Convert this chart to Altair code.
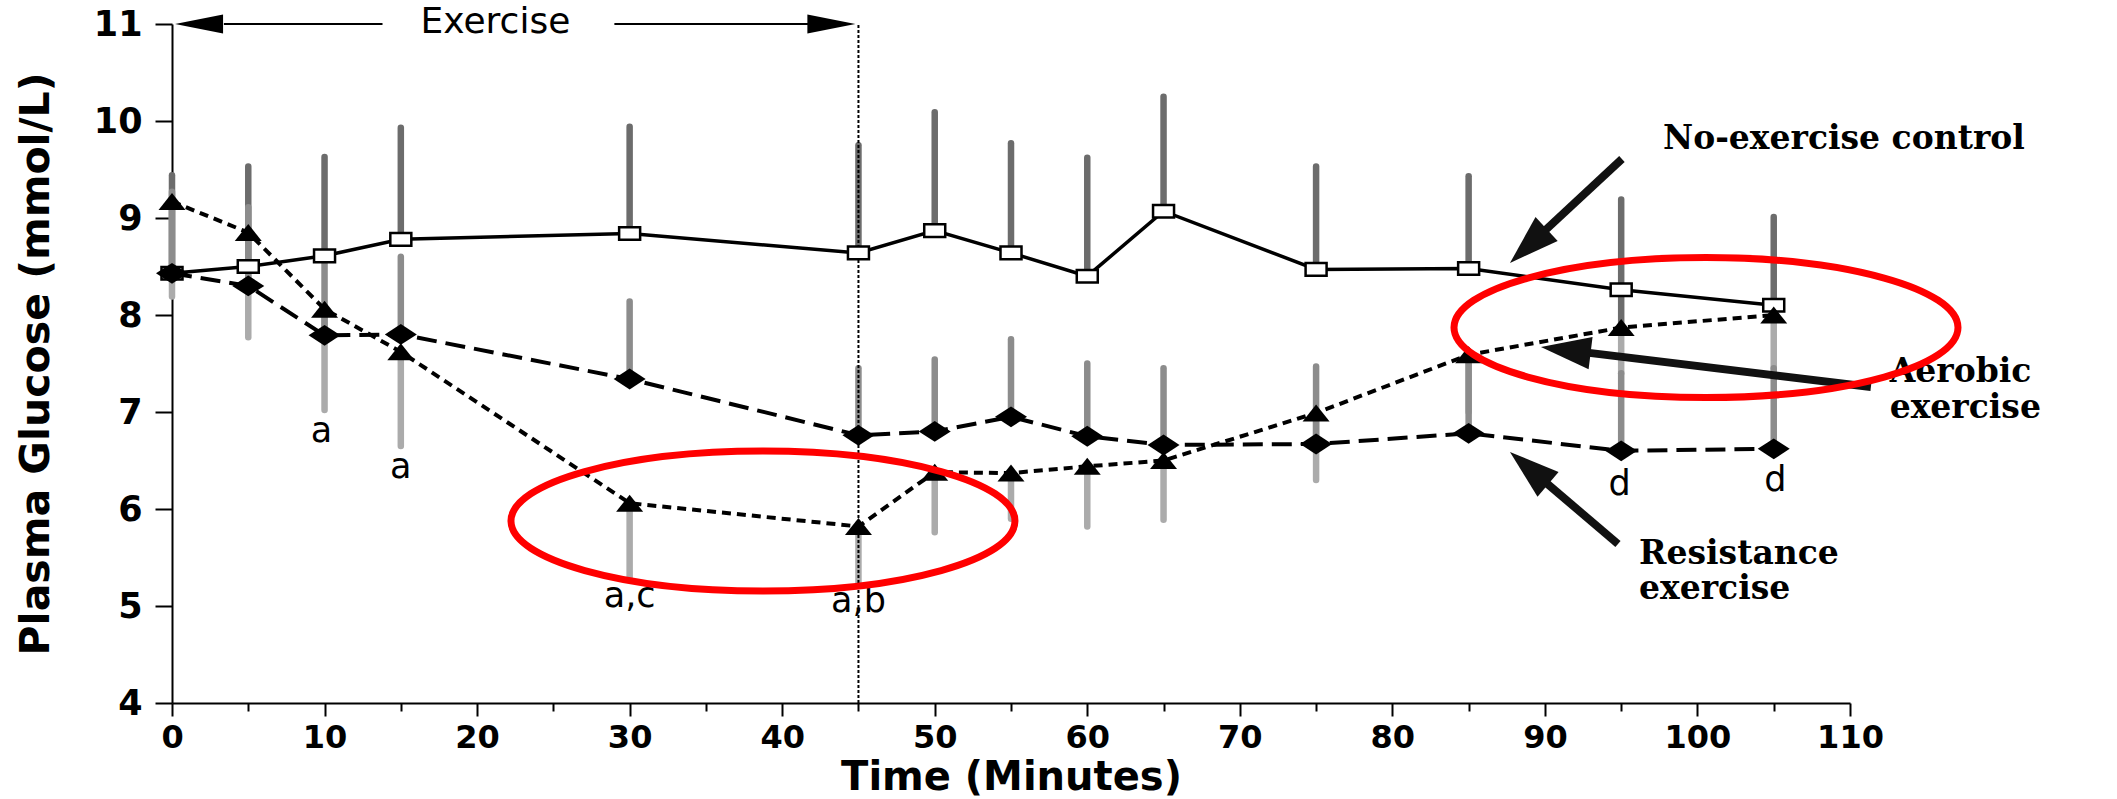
import altair as alt
import pandas as pd

# ---------------- data ----------------
times = [0, 5, 10, 15, 30, 45, 50, 55, 60, 65, 75, 85, 95, 105]

control = [8.43, 8.50, 8.61, 8.78, 8.84, 8.64, 8.87, 8.64, 8.40, 9.07, 8.47, 8.48, 8.26, 8.10]
control_bar_lo = [8.43, 8.50, 8.61, 8.78, 8.84, 8.64, 8.87, 8.64, 8.40, 9.07, 8.47, 8.48, 7.87, 8.10]
control_bar_hi = [9.44, 9.53, 9.63, 9.93, 9.94, 9.75, 10.09, 9.77, 9.62, 10.25, 9.53, 9.43, 9.19, 9.01]

aerobic = [9.17, 8.85, 8.06, 7.62, 6.06, 5.82, 6.38, 6.37, 6.44, 6.50, 6.99, 7.59, 7.87, 8.00]
aerobic_bar_lo = [8.19, 7.77, 7.02, 6.65, 5.29, 5.24, 5.76, 5.90, 5.82, 5.89, 6.30, 7.00, 7.40, 7.45]

resistance = [8.43, 8.30, 7.79, 7.80, 7.34, 6.76, 6.80, 6.95, 6.75, 6.66, 6.67, 6.78, 6.60, 6.62]
resistance_bar_hi = [9.27, 9.11, 8.60, 8.60, 8.14, 7.45, 7.54, 7.75, 7.50, 7.45, 7.47, 7.59, 7.40, 7.45]

sig_labels = ["a", "a", "a,c", "a,b", "d", "d"]
sig_t = [9.8, 15.0, 30.0, 45.0, 94.9, 105.1]
sig_v = [6.69, 6.32, 4.99, 4.94, 6.14, 6.19]

exercise_end = 45
ex_line_from = [3.4, 29.0]
ex_line_to = [13.8, 41.8]
ex_level = [11.0, 11.0]
ex_tip_t = [0.2, 44.8]
ex_tip_angle = [180, 0]
ex_label_t = [21.2]
ex_label_v = [11.02]

note_text = ["No-exercise control", "Aerobic", "exercise", "Resistance", "exercise"]
note_t = [97.74, 112.6, 112.6, 96.17, 96.17]
note_v = [9.711, 7.309, 6.935, 5.433, 5.072]

arrow_tail_t = [95.05, 111.37, 94.79]
arrow_tail_v = [9.608, 7.258, 5.639]
arrow_neck_t = [89.15, 91.69, 89.20]
arrow_neck_v = [8.746, 7.633, 6.388]
arrow_tip_t = [87.71, 89.74, 87.71]
arrow_tip_v = [8.536, 7.670, 6.588]
arrow_angle = [137.1, 186.9, 220.4]

ellipse_t = [38.74, 100.56]
ellipse_v = [5.876, 7.871]

# ---------------- shapes ----------------
SQUARE = "M -1 -0.6 L 1 -0.6 L 1 0.6 L -1 0.6 Z"
TRIANGLE = "M 0 -0.63 L 1 0.63 L -1 0.63 Z"
DIAMOND = "M 0 -0.65 L 1 0 L 0 0.65 L -1 0 Z"
THIN_HEAD = "M 0 0 L -2 -0.4 L -2 0.4 Z"
THICK_HEAD = "M 0 0 L -2 -0.65 L -2 0.65 Z"
e = 0.2778
ke = round(0.5523 * e, 4)
ELLIPSE = (f"M 1 0 C 1 {ke} 0.5523 {e} 0 {e} "
           f"C -0.5523 {e} -1 {ke} -1 0 "
           f"C -1 -{ke} -0.5523 -{e} 0 -{e} "
           f"C 0.5523 -{e} 1 -{ke} 1 0 Z")

# ---------------- scales / axes ----------------
xs = alt.Scale(domain=[0, 110], nice=False, zero=False)
ys = alt.Scale(domain=[4, 11], nice=False, zero=False)

x_axis = alt.Axis(
    title="Time (Minutes)",
    values=list(range(0, 111, 5)),
    labelExpr="datum.value % 10 === 0 ? datum.label : ''",
    tickSize={"condition": {"test": "datum.value % 10 === 0", "value": 13}, "value": 8},
    tickWidth=2, tickColor="black", domainColor="black", domainWidth=2,
    labelFont="DejaVu Sans", labelFontWeight="bold", labelFontSize=32, labelColor="black",
    labelPadding=6, labelFlush=False, labelOverlap=False, grid=False,
    titleFont="DejaVu Sans", titleFontWeight="bold", titleFontSize=40, titleColor="black",
    titleBaseline="alphabetic", titleY=86,
)
y_axis = alt.Axis(
    title="Plasma Glucose (mmol/L)",
    values=list(range(4, 12)),
    tickSize=17, tickWidth=2, tickColor="black", domainColor="black", domainWidth=2,
    labelFont="DejaVu Sans", labelFontWeight="bold", labelFontSize=35, labelColor="black",
    labelPadding=13, labelFlush=False, grid=False,
    titleFont="DejaVu Sans", titleFontWeight="bold", titleFontSize=41, titleColor="black",
    titleAngle=270, titleAlign="center", titleBaseline="middle", titleX=-136, titleY=339.5,
)


def X(field):
    return alt.X(field, type="quantitative", scale=xs, axis=x_axis, title="Time (Minutes)")


def Y(field):
    return alt.Y(field, type="quantitative", scale=ys, axis=y_axis, title="Plasma Glucose (mmol/L)")


df = pd.DataFrame({
    "t": times,
    "control": control, "ctrl_lo": control_bar_lo, "ctrl_hi": control_bar_hi,
    "aerobic": aerobic, "aer_lo": aerobic_bar_lo,
    "resistance": resistance, "res_hi": resistance_bar_hi,
})
base = alt.Chart(df)

ctrl_bars = base.mark_rule(strokeWidth=6.5, strokeCap="round", color="#6c6c6c").encode(
    x=X("t"), y=Y("ctrl_lo"), y2="ctrl_hi")
aer_bars = base.mark_rule(strokeWidth=6.5, strokeCap="round", color="#ababab").encode(
    x=X("t"), y=Y("aer_lo"), y2="aerobic")
res_bars = base.mark_rule(strokeWidth=6.5, strokeCap="round", color="#8c8c8c").encode(
    x=X("t"), y=Y("resistance"), y2="res_hi")

vline = alt.Chart(pd.DataFrame({"t": [exercise_end], "lo": [4], "hi": [11]})).mark_rule(
    strokeDash=[3, 2], strokeWidth=2, color="black").encode(x=X("t"), y=Y("lo"), y2="hi")

ctrl_line = base.mark_line(color="black", strokeWidth=3.5).encode(x=X("t"), y=Y("control"))
aer_line = base.mark_line(color="black", strokeWidth=4, strokeDash=[9, 6]).encode(x=X("t"), y=Y("aerobic"))
res_line = base.mark_line(color="black", strokeWidth=4, strokeDash=[20, 9]).encode(x=X("t"), y=Y("resistance"))

ctrl_pts = base.mark_point(shape=SQUARE, size=441, filled=True, fill="white", stroke="black",
                           strokeWidth=2.5, opacity=1).encode(x=X("t"), y=Y("control"))
aer_pts = base.mark_point(shape=TRIANGLE, size=729, filled=True, color="black", opacity=1).encode(
    x=X("t"), y=Y("aerobic"))
res_pts = base.mark_point(shape=DIAMOND, size=1024, filled=True, color="black", opacity=1).encode(
    x=X("t"), y=Y("resistance"))

sig = alt.Chart(pd.DataFrame({"t": sig_t, "v": sig_v, "lab": sig_labels})).mark_text(
    font="DejaVu Sans", fontSize=35, align="center", baseline="alphabetic", color="black").encode(
    x=X("t"), y=Y("v"), text="lab:N")

ex_lines = alt.Chart(pd.DataFrame({"a": ex_line_from, "b": ex_line_to, "v": ex_level})).mark_rule(
    strokeWidth=2, color="black").encode(x=X("a"), x2="b", y=Y("v"))
ex_heads = alt.Chart(pd.DataFrame({"t": ex_tip_t, "v": ex_level, "ang": ex_tip_angle})).mark_point(
    shape=THIN_HEAD, size=2304, filled=True, color="black", opacity=1).encode(
    x=X("t"), y=Y("v"), angle=alt.Angle("ang:Q", scale=None))
ex_text = alt.Chart(pd.DataFrame({"t": ex_label_t, "v": ex_label_v, "lab": ["Exercise"]})).mark_text(
    font="DejaVu Sans", fontSize=36, align="center", baseline="middle", color="black").encode(
    x=X("t"), y=Y("v"), text="lab:N")

notes = alt.Chart(pd.DataFrame({"t": note_t, "v": note_v, "lab": note_text})).mark_text(
    font="DejaVu Serif", fontWeight="bold", fontSize=33, align="left", baseline="alphabetic",
    color="black").encode(x=X("t"), y=Y("v"), text="lab:N")

arrow_df = pd.DataFrame({"t0": arrow_tail_t, "v0": arrow_tail_v, "t1": arrow_neck_t, "v1": arrow_neck_v,
                         "tt": arrow_tip_t, "vt": arrow_tip_v, "ang": arrow_angle})
arrow_lines = alt.Chart(arrow_df).mark_rule(strokeWidth=8, color="#111111").encode(
    x=X("t0"), y=Y("v0"), x2="t1", y2="v1")
arrow_heads = alt.Chart(arrow_df).mark_point(shape=THICK_HEAD, size=2500, filled=True,
                                             color="#111111", opacity=1).encode(
    x=X("tt"), y=Y("vt"), angle=alt.Angle("ang:Q", scale=None))

ellipses = alt.Chart(pd.DataFrame({"t": ellipse_t, "v": ellipse_v})).mark_point(
    shape=ELLIPSE, size=254016, filled=False, color="#ff0000", strokeWidth=7, opacity=1).encode(
    x=X("t"), y=Y("v"))

chart = alt.layer(
    ctrl_bars, aer_bars, res_bars, vline,
    ctrl_line, aer_line, res_line,
    ctrl_pts, aer_pts, res_pts,
    sig, ex_lines, ex_heads, ex_text,
    notes, arrow_lines, arrow_heads, ellipses,
).properties(
    width=1678, height=679,
    padding={"left": 172, "top": 24, "right": 267, "bottom": 96},
    autosize=alt.AutoSizeParams(type="none"),
    background="white",
).configure_view(stroke=None)

chart.save("out.html", embed_options={"renderer": "svg", "actions": False})
